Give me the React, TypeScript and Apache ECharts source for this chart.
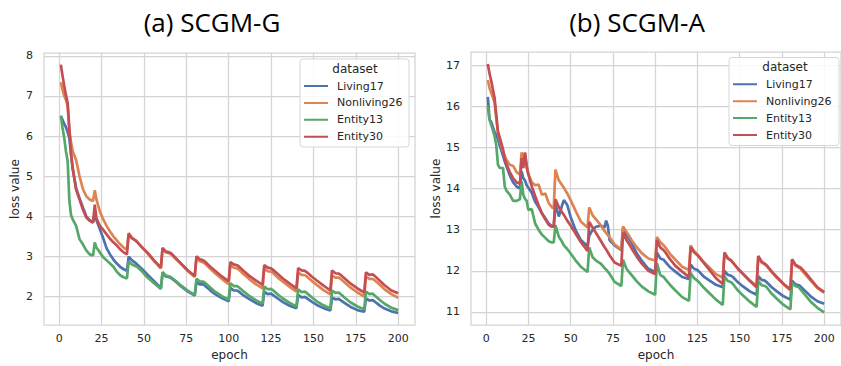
import React, { useEffect, useRef } from "react";
import * as echarts from "echarts";

const SERIES_NAMES = ["Living17", "Nonliving26", "Entity13", "Entity30"];
const COLORS = ["#4C72B0", "#DD8452", "#55A868", "#C44E52"];
const X_TICKS = [0, 25, 50, 75, 100, 125, 150, 175, 200];
const G_Y_TICKS = [2, 3, 4, 5, 6, 7, 8];
const A_Y_TICKS = [11, 12, 13, 14, 15, 16, 17];
const TITLES = ["(a) SCGM-G", "(b) SCGM-A"];

// (a) SCGM-G
const G_EPOCHS = [
  1, 2, 3, 4, 5, 6, 7, 8, 10, 12, 14, 16, 18, 20,
  21, 22, 24, 26, 28, 30, 32, 34, 36, 38, 40,
  41, 43, 45, 46, 49, 52, 56, 60,
  61, 63, 65, 66, 69, 72, 76, 80,
  81, 83, 85, 86, 89, 92, 96, 100,
  101, 103, 105, 106, 109, 112, 116, 120,
  121, 123, 125, 126, 129, 132, 136, 140,
  141, 143, 145, 146, 149, 152, 156, 160,
  161, 163, 165, 166, 169, 172, 176, 180,
  181, 183, 185, 186, 189, 192, 196, 200,
];
const G_LIVING17 = [
  6.5, 6.4, 6.3, 6.22, 6.1, 5.95, 5.55, 5.18, 4.7, 4.45, 4.22, 4.0, 3.9, 3.85,
  4.08, 3.9, 3.68, 3.45, 3.2, 3.05, 2.92, 2.82, 2.74, 2.68, 2.64,
  2.99, 2.9, 2.84, 2.8, 2.68, 2.55, 2.38, 2.21,
  2.58, 2.5, 2.48, 2.46, 2.36, 2.25, 2.12, 2.02,
  2.36, 2.3, 2.3, 2.27, 2.16, 2.06, 1.96, 1.88,
  2.22, 2.15, 2.15, 2.12, 2.02, 1.94, 1.84, 1.77,
  2.12, 2.06, 2.07, 2.04, 1.95, 1.86, 1.77, 1.71,
  2.04, 1.98, 1.99, 1.96, 1.87, 1.79, 1.71, 1.65,
  1.97, 1.93, 1.94, 1.91, 1.82, 1.74, 1.66, 1.62,
  1.95, 1.9, 1.91, 1.88, 1.78, 1.7, 1.63, 1.59,
];
const G_NONLIVING26 = [
  7.34, 7.15, 7.0, 6.9, 6.75, 6.1, 5.85, 5.62, 5.4, 5.0, 4.68, 4.5, 4.42, 4.38,
  4.65, 4.42, 4.12, 3.92, 3.76, 3.62, 3.5, 3.4, 3.3, 3.22, 3.17,
  3.58, 3.46, 3.4, 3.36, 3.22, 3.08, 2.88, 2.7,
  3.19, 3.1, 3.08, 3.05, 2.93, 2.8, 2.63, 2.49,
  2.95, 2.88, 2.85, 2.82, 2.7, 2.58, 2.44, 2.31,
  2.78, 2.72, 2.7, 2.67, 2.55, 2.44, 2.31, 2.2,
  2.7, 2.63, 2.62, 2.59, 2.47, 2.37, 2.24, 2.12,
  2.6, 2.54, 2.53, 2.5, 2.39, 2.29, 2.16, 2.05,
  2.53, 2.47, 2.47, 2.44, 2.33, 2.22, 2.1, 2.0,
  2.5, 2.44, 2.44, 2.41, 2.3, 2.18, 2.06, 1.97,
];
const G_ENTITY13 = [
  6.51, 6.2, 5.95, 5.62, 5.38, 4.4, 4.03, 3.92, 3.76, 3.43, 3.3, 3.15, 3.05, 3.02,
  3.35, 3.22, 3.1, 2.98, 2.9, 2.82, 2.74, 2.62, 2.53, 2.48, 2.45,
  2.88, 2.8, 2.76, 2.74, 2.62, 2.48, 2.33, 2.19,
  2.61, 2.52, 2.5, 2.48, 2.38, 2.27, 2.14, 2.04,
  2.44, 2.37, 2.37, 2.34, 2.23, 2.12, 2.01, 1.92,
  2.33, 2.26, 2.26, 2.23, 2.12, 2.02, 1.91, 1.82,
  2.25, 2.18, 2.19, 2.16, 2.05, 1.95, 1.84, 1.75,
  2.18, 2.11, 2.12, 2.09, 1.98, 1.88, 1.78, 1.7,
  2.15, 2.09, 2.1, 2.06, 1.95, 1.85, 1.75, 1.68,
  2.12, 2.06, 2.07, 2.03, 1.92, 1.82, 1.72, 1.66,
];
const G_ENTITY30 = [
  7.78, 7.5, 7.25, 7.02, 6.82, 6.2, 5.55, 5.2, 4.66, 4.42, 4.17, 3.97, 3.89, 3.84,
  4.29, 3.95, 3.76, 3.66, 3.55, 3.44, 3.35, 3.27, 3.18, 3.1, 3.05,
  3.56, 3.45, 3.4, 3.36, 3.22, 3.1, 2.9, 2.72,
  3.21, 3.12, 3.1, 3.08, 2.95, 2.82, 2.65, 2.51,
  3.0, 2.93, 2.9, 2.87, 2.75, 2.64, 2.5, 2.38,
  2.86, 2.8, 2.78, 2.75, 2.63, 2.52, 2.4, 2.29,
  2.78, 2.72, 2.7, 2.67, 2.56, 2.45, 2.32, 2.2,
  2.71, 2.65, 2.64, 2.61, 2.5, 2.4, 2.27, 2.15,
  2.65, 2.58, 2.57, 2.54, 2.43, 2.32, 2.2, 2.1,
  2.6, 2.54, 2.55, 2.52, 2.4, 2.28, 2.15, 2.08,
];

// (b) SCGM-A
const A_EPOCHS = [
  1, 2, 3, 5, 6, 7, 8, 10, 11, 12, 14, 16, 18, 20,
  21, 22, 23, 24, 25, 27, 29, 31, 33, 35, 37, 39, 40,
  41, 43, 45, 46, 48, 50, 53, 56, 60,
  61, 63, 65, 68, 70, 71, 72, 73, 76, 80,
  81, 83, 85, 86, 89, 92, 96, 100,
  101, 103, 105, 106, 109, 112, 116, 120,
  121, 123, 125, 126, 129, 132, 136, 140,
  141, 143, 145, 146, 149, 152, 156, 160,
  161, 163, 165, 166, 169, 172, 176, 180,
  181, 183, 185, 186, 189, 192, 196, 200,
];
const A_LIVING17 = [
  16.23, 15.68, 15.62, 15.37, 15.3, 15.2, 15.05, 14.8, 14.66, 14.55, 14.32, 14.15, 14.05, 14.0,
  14.42, 14.25, 14.2, 14.08, 14.02, 13.9, 13.68, 13.55, 13.4, 13.28, 13.15, 13.08, 13.07,
  13.62, 13.32, 13.6, 13.72, 13.6, 13.31, 12.98, 12.75, 12.6,
  12.85, 13.0, 13.07, 13.1, 13.05, 13.22, 13.1, 12.75, 12.62, 12.5,
  13.05, 12.87, 12.75, 12.68, 12.43, 12.25, 12.05, 11.97,
  12.45, 12.3, 12.27, 12.22, 12.08, 11.98, 11.85, 11.8,
  12.15, 12.05, 12.02, 11.98, 11.85, 11.77, 11.66, 11.6,
  12.0, 11.9, 11.88, 11.85, 11.72, 11.62, 11.5, 11.42,
  11.87, 11.78, 11.76, 11.72, 11.6, 11.5, 11.38, 11.3,
  11.76, 11.67, 11.65, 11.62, 11.5, 11.38, 11.26, 11.2,
];
const A_NONLIVING26 = [
  16.64, 16.45, 16.33, 16.09, 15.7, 15.37, 15.2, 14.9, 14.8, 14.7, 14.58, 14.55, 14.4, 14.34,
  14.88, 14.7, 14.85, 14.5, 14.34, 14.15, 14.08, 14.1, 13.85, 13.88, 13.65, 13.54, 13.52,
  14.46, 14.2, 14.08, 14.02, 13.88, 13.72, 13.45, 13.2, 13.05,
  13.54, 13.35, 13.25, 13.1, 12.97, 12.92, 12.87, 12.82, 12.64, 12.52,
  13.08, 12.95, 12.82, 12.75, 12.58, 12.43, 12.3, 12.25,
  12.82, 12.7, 12.62, 12.57, 12.4, 12.27, 12.1, 12.02,
  12.62, 12.48, 12.4, 12.35, 12.2, 12.08, 11.92, 11.83,
  12.45, 12.3, 12.25, 12.2, 12.05, 11.93, 11.77, 11.63,
  12.35, 12.2, 12.15, 12.12, 11.97, 11.83, 11.67, 11.53,
  12.27, 12.12, 12.08, 12.05, 11.9, 11.76, 11.58, 11.47,
];
const A_ENTITY13 = [
  16.0, 15.68, 15.55, 15.28, 15.05, 14.58, 14.5, 14.5, 14.05, 13.95, 13.85, 13.7, 13.7, 13.74,
  14.18, 13.85, 13.75, 13.7, 13.48, 13.5, 13.15, 13.0, 12.88, 12.8, 12.72, 12.69, 12.69,
  13.11, 12.83, 12.7, 12.62, 12.53, 12.42, 12.25, 12.1, 11.97,
  12.57, 12.33, 12.25, 12.17, 12.07, 12.03, 11.98, 11.93, 11.73, 11.63,
  12.27, 12.05, 11.95, 11.9, 11.75, 11.62, 11.5, 11.42,
  12.19, 11.9, 11.85, 11.8, 11.65, 11.52, 11.36, 11.27,
  11.95, 11.82, 11.76, 11.72, 11.58, 11.46, 11.3, 11.17,
  11.87, 11.75, 11.72, 11.68, 11.52, 11.4, 11.25, 11.12,
  11.75, 11.65, 11.63, 11.6, 11.44, 11.32, 11.17, 11.06,
  11.7, 11.63, 11.6, 11.55, 11.4, 11.25, 11.1, 10.99,
];
const A_ENTITY30 = [
  17.03, 16.8, 16.62, 16.2, 15.8, 15.38, 15.25, 14.95, 14.72, 14.6, 14.4, 14.25, 14.15, 14.12,
  14.74, 14.5, 14.88, 14.55, 14.35, 14.05, 13.82, 13.6, 13.4, 13.25, 13.12, 13.07, 13.08,
  13.74, 13.55, 13.42, 13.36, 13.22, 13.1, 12.9, 12.7, 12.48,
  13.19, 13.05, 12.92, 12.72, 12.58, 12.52, 12.45, 12.38, 12.2, 12.12,
  12.93, 12.75, 12.62, 12.55, 12.35, 12.18, 12.0, 11.92,
  12.75, 12.57, 12.5, 12.45, 12.27, 12.12, 11.98, 11.85,
  12.58, 12.45, 12.38, 12.33, 12.18, 12.03, 11.82, 11.68,
  12.44, 12.3, 12.25, 12.2, 12.05, 11.92, 11.75, 11.6,
  12.36, 12.22, 12.17, 12.13, 11.98, 11.85, 11.68, 11.55,
  12.28, 12.15, 12.1, 12.08, 11.95, 11.8, 11.6, 11.48,
];

const PANELS = [
  {
    epochs: G_EPOCHS,
    values: [G_LIVING17, G_NONLIVING26, G_ENTITY13, G_ENTITY30],
    yTicks: G_Y_TICKS,
    yMin: 1.287,
    yMax: 8.07,
  },
  {
    epochs: A_EPOCHS,
    values: [A_LIVING17, A_NONLIVING26, A_ENTITY13, A_ENTITY30],
    yTicks: A_Y_TICKS,
    yMin: 10.68,
    yMax: 17.32,
  },
];

// layout (pixels)
const GRIDS = [
  { left: 44, top: 53, width: 371, height: 276 },
  { left: 471, top: 52, width: 373, height: 278 },
];
const Y_NAME_GAP = [23, 26];
const Y_LABEL_MARGIN = [11, 11];
const LEGEND_BOX = [
  { x: 300, y: 59, w: 109, h: 88, titleX: 355, titleY: 68.5, itemLeft: 304, itemTop: 79 },
  { x: 729, y: 57.5, w: 110, h: 88, titleX: 785, titleY: 67, itemLeft: 733, itemTop: 77.3 },
];
const TITLE_POS = [
  { x: 212, y: 22 },
  { x: 637, y: 22 },
];

const GRID_COLOR = "#d4d4d4";
const TEXT_COLOR = "#262626";
const FONT = "DejaVu Sans";
const LEGEND_ICON = "path://M0,0h24v0.01h-24z M0,6h24v2h-24z M0,13.99h24v0.01h-24z";

function buildOption() {
  const grid: any[] = [];
  const xAxis: any[] = [];
  const yAxis: any[] = [];
  const series: any[] = [];
  const legend: any[] = [];
  const graphic: any[] = [];

  PANELS.forEach((p, i) => {
    const g = GRIDS[i];
    grid.push({
      left: g.left,
      top: g.top,
      width: g.width,
      height: g.height,
      show: true,
      backgroundColor: "#ffffff",
      borderColor: GRID_COLOR,
      borderWidth: 1.25,
      containLabel: false,
    });
    xAxis.push({
      type: "value",
      gridIndex: i,
      min: -8.95,
      max: 209.95,
      name: "epoch",
      nameLocation: "middle",
      nameGap: 23,
      nameTextStyle: { color: TEXT_COLOR, fontFamily: FONT, fontSize: 12 },
      axisLine: { show: false },
      axisTick: { show: false, customValues: X_TICKS },
      axisLabel: {
        customValues: X_TICKS,
        color: TEXT_COLOR,
        fontFamily: FONT,
        fontSize: 11,
        margin: 8,
      },
      splitLine: { show: true, lineStyle: { color: GRID_COLOR, width: 1.25 } },
    });
    yAxis.push({
      type: "value",
      gridIndex: i,
      min: p.yMin,
      max: p.yMax,
      name: "loss value",
      nameLocation: "middle",
      nameGap: Y_NAME_GAP[i],
      nameTextStyle: { color: TEXT_COLOR, fontFamily: FONT, fontSize: 12 },
      axisLine: { show: false },
      axisTick: { show: false, customValues: p.yTicks },
      axisLabel: {
        customValues: p.yTicks,
        color: TEXT_COLOR,
        fontFamily: FONT,
        fontSize: 11,
        margin: Y_LABEL_MARGIN[i],
      },
      splitLine: { show: true, lineStyle: { color: GRID_COLOR, width: 1.25 } },
    });
    SERIES_NAMES.forEach((name, k) => {
      series.push({
        type: "line",
        name,
        xAxisIndex: i,
        yAxisIndex: i,
        symbol: "none",
        showSymbol: false,
        color: COLORS[k],
        lineStyle: { color: COLORS[k], width: 2.7 },
        data: p.epochs.map((e, j) => [e, p.values[k][j]]),
        z: 2 + k,
      });
    });
    const lb = LEGEND_BOX[i];
    legend.push({
      left: lb.itemLeft,
      top: lb.itemTop,
      orient: "vertical",
      itemWidth: 24,
      itemHeight: 14,
      itemGap: 2.9,
      icon: LEGEND_ICON,
      selectedMode: false,
      padding: 0,
      data: SERIES_NAMES,
      textStyle: {
        color: TEXT_COLOR,
        fontFamily: FONT,
        fontSize: 11,
        padding: [0, 0, 0, 4],
      },
      z: 20,
    });
    graphic.push({
      type: "rect",
      shape: { x: lb.x, y: lb.y, width: lb.w, height: lb.h, r: 3 },
      style: { fill: "rgba(255,255,255,0.85)", stroke: "#d6d6d6", lineWidth: 1 },
      z: 10,
    });
    graphic.push({
      type: "text",
      x: lb.titleX,
      y: lb.titleY,
      style: {
        text: "dataset",
        fill: TEXT_COLOR,
        font: `12px "${FONT}"`,
        textAlign: "center",
        textVerticalAlign: "middle",
      },
      z: 11,
    });
    graphic.push({
      type: "text",
      x: TITLE_POS[i].x,
      y: TITLE_POS[i].y,
      style: {
        text: TITLES[i],
        fill: "#000000",
        font: `26px "Open Sans"`,
        textAlign: "center",
        textVerticalAlign: "middle",
      },
      z: 11,
    });
  });

  return {
    animation: false,
    backgroundColor: "#ffffff",
    grid,
    xAxis,
    yAxis,
    series,
    legend,
    graphic,
  };
}

export default function App() {
  const ref = useRef<HTMLDivElement>(null);
  useEffect(() => {
    if (!ref.current) return;
    const chart = echarts.init(ref.current, undefined, { renderer: "svg" });
    chart.setOption(buildOption());
    return () => chart.dispose();
  }, []);
  return (
    <div
      ref={ref}
      style={{ position: "fixed", left: 0, top: 0, width: 841, height: 366 }}
    />
  );
}
